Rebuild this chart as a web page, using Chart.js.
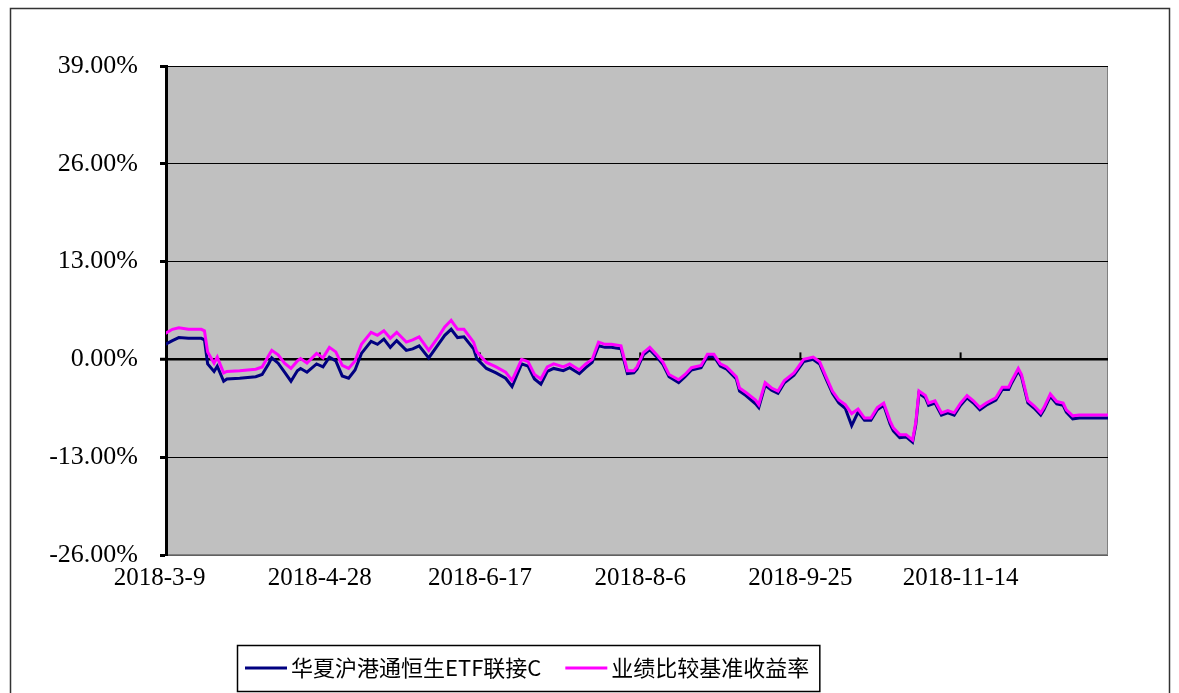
<!DOCTYPE html>
<html><head><meta charset="utf-8">
<script src="https://cdn.jsdelivr.net/npm/chart.js@4.4.1/dist/chart.umd.min.js"></script>
<style>html,body{margin:0;padding:0;background:#fff;overflow:hidden}#wrap{position:absolute;left:0;top:0;width:1179px;height:693px}</style>
</head><body><div id="wrap"><canvas id="c" width="1179" height="693"></canvas></div>
<script>
const dates = ['2018-3-9','2018-3-13','2018-3-15','2018-3-18','2018-3-22','2018-3-23','2018-3-24','2018-3-26','2018-3-27','2018-3-29','2018-3-30',
'2018-4-3','2018-4-8','2018-4-10','2018-4-12','2018-4-13','2018-4-15','2018-4-17','2018-4-19','2018-4-21','2018-4-22','2018-4-24','2018-4-27','2018-4-29',
'2018-5-1','2018-5-3','2018-5-5','2018-5-7','2018-5-9','2018-5-11','2018-5-14','2018-5-16','2018-5-18','2018-5-20','2018-5-22','2018-5-25','2018-5-27','2018-5-29',
'2018-6-1','2018-6-4','2018-6-6','2018-6-8','2018-6-10','2018-6-12','2018-6-15','2018-6-16','2018-6-19','2018-6-22','2018-6-25','2018-6-27','2018-6-30',
'2018-7-2','2018-7-4','2018-7-6','2018-7-8','2018-7-10','2018-7-13','2018-7-15','2018-7-18','2018-7-20','2018-7-22','2018-7-24','2018-7-26','2018-7-28','2018-7-31',
'2018-8-2','2018-8-4','2018-8-5','2018-8-7','2018-8-9','2018-8-11','2018-8-13','2018-8-15','2018-8-18','2018-8-20','2018-8-22','2018-8-25','2018-8-27','2018-8-29','2018-8-31',
'2018-9-2','2018-9-5','2018-9-6','2018-9-8','2018-9-11','2018-9-12','2018-9-14','2018-9-16','2018-9-18','2018-9-20','2018-9-23','2018-9-26','2018-9-29',
'2018-10-1','2018-10-3','2018-10-5','2018-10-7','2018-10-9','2018-10-11','2018-10-13','2018-10-15','2018-10-17','2018-10-19','2018-10-21','2018-10-23','2018-10-24','2018-10-26','2018-10-28','2018-10-30','2018-10-31',
'2018-11-1','2018-11-3','2018-11-4','2018-11-6','2018-11-8','2018-11-10','2018-11-12','2018-11-14','2018-11-16','2018-11-18','2018-11-20','2018-11-22','2018-11-25','2018-11-27','2018-11-29','2018-11-30',
'2018-12-2','2018-12-3','2018-12-5','2018-12-7','2018-12-9','2018-12-10','2018-12-12','2018-12-14','2018-12-16','2018-12-17','2018-12-19','2018-12-21','2018-12-24','2018-12-27','2018-12-31'];

const fundValues = [1.6,2.5,2.9,2.8,2.8,2.6,-0.6,-1.6,-0.9,-2.9,-2.6,
-2.5,-2.3,-2.0,-0.6,0.2,-0.5,-1.7,-2.9,-1.5,-1.2,-1.7,-0.6,-1.0,
0.3,-0.2,-2.2,-2.5,-1.4,0.8,2.4,2.0,2.7,1.6,2.5,1.2,1.4,1.8,
0.2,2.0,3.2,4.0,2.9,3.0,1.4,0.1,-1.2,-1.8,-2.5,-3.6,-0.6,
-0.9,-2.6,-3.3,-1.6,-1.2,-1.5,-1.1,-1.9,-1.1,-0.4,1.8,1.6,1.6,1.4,
-1.9,-1.8,-1.3,0.6,1.3,0.4,-0.6,-2.3,-3.1,-2.3,-1.4,-1.1,0.4,0.4,-0.9,
-1.3,-2.6,-4.2,-4.8,-5.9,-6.4,-3.4,-4.1,-4.5,-3.1,-2.1,-0.3,0.0,
-0.6,-2.6,-4.5,-5.8,-6.5,-8.8,-7.0,-8.1,-8.1,-6.7,-6.1,-8.6,-9.5,-10.4,-10.3,-11.0,-8.7,
-4.5,-5.1,-6.1,-5.8,-7.4,-7.1,-7.4,-6.1,-5.1,-5.8,-6.7,-6.1,-5.4,-4.0,-4.0,-3.1,
-1.5,-2.3,-5.8,-6.5,-7.4,-6.7,-4.9,-5.9,-6.1,-7.0,-7.9,-7.8,-7.8,-7.8,-7.8];

const benchmarkValues = [3.0,4.0,4.2,4.0,4.0,3.8,1.0,-0.5,0.3,-1.8,-1.6,
-1.5,-1.3,-1.0,0.5,1.2,0.6,-0.5,-1.2,-0.2,0.1,-0.5,0.8,0.2,
1.6,1.0,-0.8,-1.2,-0.2,2.0,3.6,3.2,3.8,2.8,3.6,2.3,2.6,3.0,
1.2,3.0,4.3,5.2,4.0,4.0,2.3,1.0,-0.4,-1.0,-1.7,-2.8,0.0,
-0.3,-2.0,-2.6,-1.0,-0.6,-1.0,-0.6,-1.4,-0.6,0.0,2.3,2.0,2.0,1.8,
-1.5,-1.5,-1.0,0.9,1.6,0.7,-0.3,-2.0,-2.7,-2.0,-1.1,-0.8,0.7,0.7,-0.6,
-1.0,-2.3,-3.8,-4.4,-5.4,-6.0,-3.1,-3.8,-4.2,-2.8,-1.8,0.0,0.3,
-0.3,-2.3,-4.2,-5.4,-6.0,-7.2,-6.6,-7.8,-7.8,-6.4,-5.8,-8.2,-9.1,-10.0,-10.0,-10.7,-8.4,
-4.2,-4.8,-5.8,-5.5,-7.1,-6.8,-7.1,-5.8,-4.8,-5.5,-6.4,-5.8,-5.1,-3.7,-3.7,-2.8,
-1.2,-2.0,-5.5,-6.2,-7.1,-6.4,-4.6,-5.6,-5.8,-6.7,-7.5,-7.4,-7.4,-7.4,-7.4];

const seriesNames = ['华夏沪港通恒生ETF联接C', '业绩比较基准收益率'];
const seriesColors = ['#000080', '#FF00FF'];
const yTickValues = [-26, -13, 0, 13, 26, 39];
const xTickLabels = ['2018-3-9', '2018-4-28', '2018-6-17', '2018-8-6', '2018-9-25', '2018-11-14'];

function dayOf(s) {
  const p = s.split('-').map(Number);
  return Math.round((Date.UTC(p[0], p[1] - 1, p[2]) - Date.UTC(2018, 2, 9)) / 864e5);
}
const toPoints = vals => vals.map((v, i) => ({x: dayOf(dates[i]), y: v}));

const SERIF = '"Liberation Serif", "Times New Roman", serif';
Chart.defaults.font.family = SERIF;
Chart.defaults.font.size = 25;
Chart.defaults.color = '#000';

const framePlugin = {
  id: 'frame',
  beforeDraw(chart) {
    const ctx = chart.ctx, a = chart.chartArea;
    ctx.save();
    ctx.fillStyle = '#fff';
    ctx.fillRect(0, 0, chart.width, chart.height);
    ctx.strokeStyle = '#333';
    ctx.lineWidth = 1.5;
    ctx.strokeRect(10.5, 8.5, 1159, 700);
    ctx.fillStyle = '#C0C0C0';
    ctx.fillRect(a.left, a.top, a.right - a.left, a.bottom - a.top);
    ctx.strokeStyle = '#808080';
    ctx.lineWidth = 1;
    ctx.strokeRect(a.left + 0.5, a.top + 0.5, a.right - a.left - 1, a.bottom - a.top - 1);
    ctx.restore();
  },
  beforeDatasetsDraw(chart) {
    const ctx = chart.ctx, xs = chart.scales.x, ys = chart.scales.y;
    const y0 = ys.getPixelForValue(0);
    ctx.save();
    ctx.strokeStyle = '#000';
    ctx.lineWidth = 2;
    xs.ticks.forEach(t => {
      const px = xs.getPixelForValue(t.value);
      if (px > chart.chartArea.left + 2 && px < chart.chartArea.right) {
        ctx.beginPath(); ctx.moveTo(px, y0 - 7); ctx.lineTo(px, y0); ctx.stroke();
      }
    });
    ctx.restore();
  },
  afterDraw(chart) {
    const ctx = chart.ctx;
    const boxLeft = 237, boxTop = 645, boxH = 46, cy = boxTop + boxH / 2;
    ctx.save();
    ctx.font = '22px "Noto Sans CJK SC", sans-serif';
    ctx.textBaseline = 'middle';
    let x = boxLeft + 8;
    chart.data.datasets.forEach((ds, i) => {
      ctx.strokeStyle = ds.borderColor;
      ctx.lineWidth = 3;
      ctx.beginPath(); ctx.moveTo(x, cy); ctx.lineTo(x + 42, cy); ctx.stroke();
      ctx.fillStyle = '#000';
      ctx.fillText(ds.label, x + 46, cy);
      x = x + 46 + ctx.measureText(ds.label).width + 24;
    });
    ctx.strokeStyle = '#000';
    ctx.lineWidth = 1.5;
    ctx.strokeRect(boxLeft + 0.5, boxTop + 0.5, x - 24 + 10 - boxLeft, boxH);
    ctx.restore();
  }
};

new Chart(document.getElementById('c'), {
  type: 'line',
  data: {
    datasets: [
      {label: seriesNames[0], data: toPoints(fundValues), borderColor: seriesColors[0], backgroundColor: seriesColors[0], borderWidth: 3, pointRadius: 0, tension: 0, order: 1},
      {label: seriesNames[1], data: toPoints(benchmarkValues), borderColor: seriesColors[1], backgroundColor: seriesColors[1], borderWidth: 3, pointRadius: 0, tension: 0, order: 0}
    ]
  },
  options: {
    responsive: false,
    animation: false,
    devicePixelRatio: 1,
    layout: {padding: {left: 0, top: 66, right: 71, bottom: 0}},
    plugins: {legend: {display: false}, tooltip: {enabled: false}},
    scales: {
      x: {
        type: 'linear', min: 2, max: 296,
        afterBuildTicks: s => { s.ticks = xTickLabels.map(l => ({value: dayOf(l)})); },
        afterFit: s => { s.height = 138; },
        grid: {display: false, drawTicks: false},
        border: {display: false},
        ticks: {autoSkip: false, maxRotation: 0, padding: 8, callback: (v, i) => xTickLabels[i]}
      },
      y: {
        type: 'linear', min: -26, max: 39,
        afterBuildTicks: s => { s.ticks = yTickValues.map(v => ({value: v})); },
        afterFit: s => { s.width = 166; },
        border: {display: true, color: '#000', width: 3},
        grid: {
          color: c => (c.tick && c.tick.value === -26) ? '#606060' : '#000',
          lineWidth: c => (c.tick && c.tick.value === 0) ? 2.5 : 1,
          drawTicks: true, tickLength: 6, tickColor: '#000', tickWidth: 3
        },
        ticks: {padding: 22, font: {size: 26}, callback: v => Number(v).toFixed(2) + '%'}
      }
    }
  },
  plugins: [framePlugin]
});
</script></body></html>
